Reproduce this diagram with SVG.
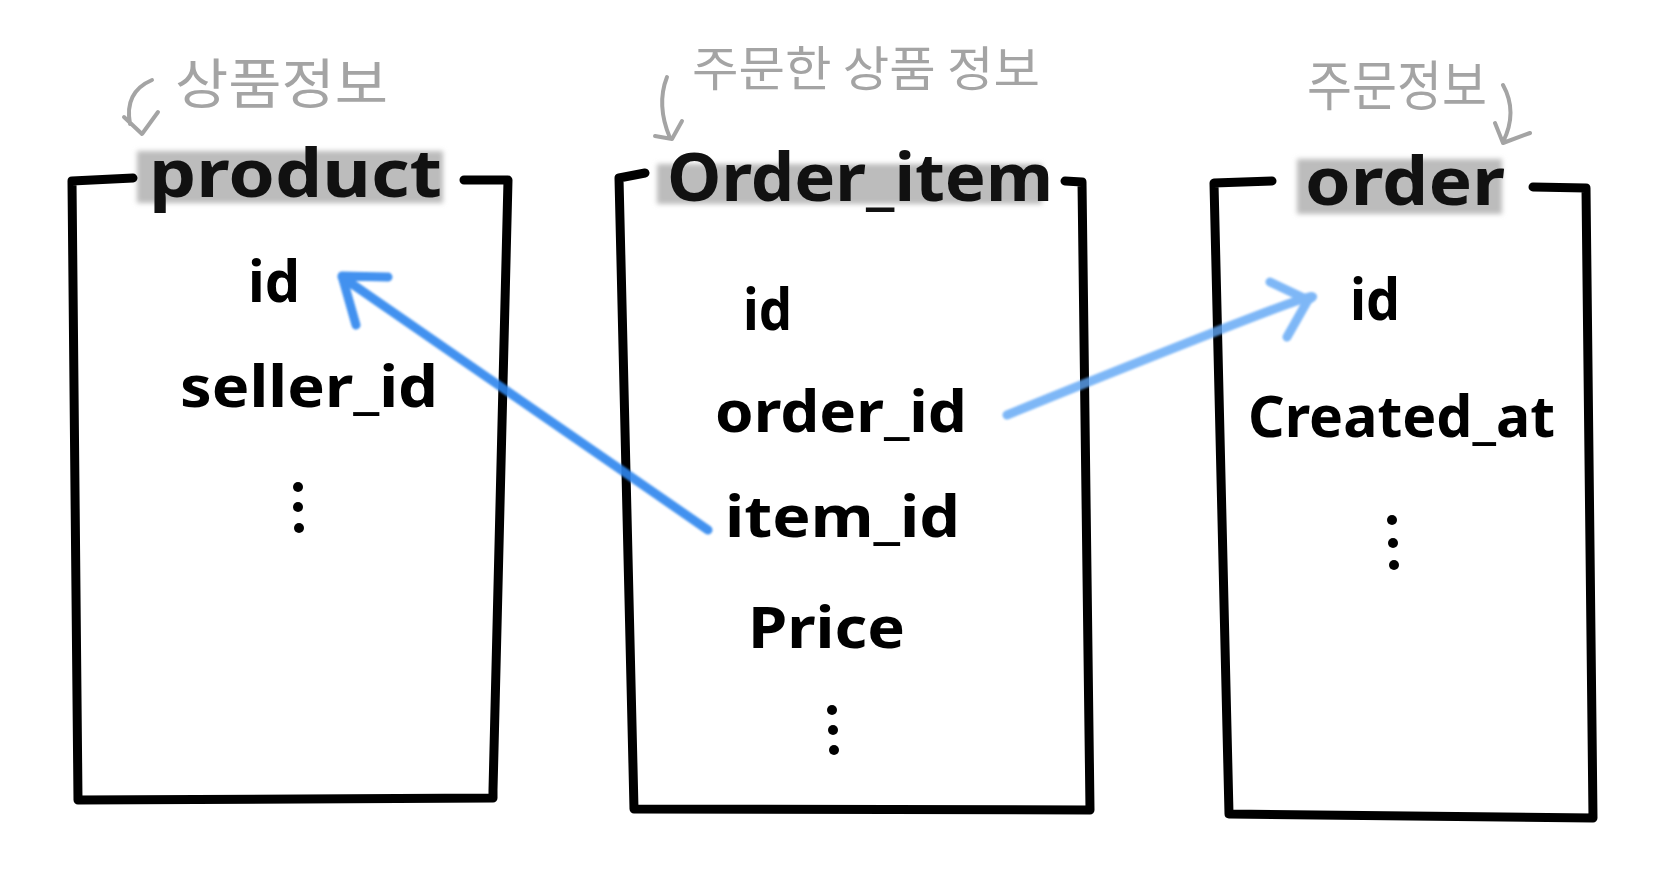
<svg xmlns="http://www.w3.org/2000/svg" width="1668" height="883" viewBox="0 0 1668 883">
<defs>
<filter id="soft" x="-10%" y="-30%" width="120%" height="160%"><feGaussianBlur stdDeviation="2.5"/></filter>
<filter id="spray" x="-10%" y="-10%" width="120%" height="120%"><feGaussianBlur stdDeviation="1.2"/></filter>
<style>
.box{fill:none;stroke:#000;stroke-width:9;stroke-linecap:round;stroke-linejoin:round}
.hl{fill:#bcbcbc;filter:url(#soft)}
.title{font-family:"Noto Sans","DejaVu Sans",sans-serif;font-weight:700;font-size:66px;fill:#111}
.field{font-family:"Noto Sans","DejaVu Sans",sans-serif;font-weight:700;font-size:58px;fill:#000}
.dot{fill:#000}
.note{font-family:"Noto Sans CJK KR","Noto Sans",sans-serif;font-weight:400;fill:#a4a4a4}
.narrow{fill:none;stroke:#a4a4a4;stroke-width:4;stroke-linecap:round;stroke-linejoin:round}
.blue{fill:none;stroke:#2f86ee;stroke-width:9;stroke-linecap:round;stroke-linejoin:round;filter:url(#spray);opacity:0.9}
.blue2{fill:none;stroke:#5fa6f5;stroke-width:9;stroke-linecap:round;stroke-linejoin:round;filter:url(#spray);opacity:0.8}
</style>
</defs>
<rect width="1668" height="883" fill="#fff"/>

<g id="annotations">
<text class="note" x="175" y="104" font-size="54" textLength="213" lengthAdjust="spacingAndGlyphs">상품정보</text>
<path class="narrow" d="M152,80 Q124,92 130,124 M124,117 L142,134 L158,112"/>
<text class="note" x="692" y="86" font-size="48" textLength="348" lengthAdjust="spacingAndGlyphs">주문한 상품 정보</text>
<path class="narrow" d="M667,77 Q656,105 670,138 M655,136 L672,139 L682,121"/>
<text class="note" x="1307" y="106" font-size="54" textLength="180" lengthAdjust="spacingAndGlyphs">주문정보</text>
<path class="narrow" d="M1503,85 Q1518,112 1503,142 M1495,123 L1503,143 L1530,133"/>
</g>

<g id="product">
<rect class="hl" x="137" y="151" width="306" height="52"/>
<path class="box" d="M133,178 L72,181 L78,800 L493,798 L493,790 M493,790 L508,180 L464,180"/>
<text class="title" x="149" y="197" textLength="293" lengthAdjust="spacingAndGlyphs">product</text>
<text class="field" x="248" y="302" textLength="52" lengthAdjust="spacingAndGlyphs">id</text>
<text class="field" x="180" y="407" textLength="258" lengthAdjust="spacingAndGlyphs">seller_id</text>
<circle class="dot" cx="298" cy="487" r="5"/>
<circle class="dot" cx="298" cy="507" r="5"/>
<circle class="dot" cx="299" cy="528" r="5"/>
</g>

<g id="order_item">
<rect class="hl" x="657" y="164" width="385" height="40"/>
<path class="box" d="M645,173 L619,178 L634,809 L1090,810 L1082,182 L1065,181"/>
<text class="title" x="667" y="201" textLength="386" lengthAdjust="spacingAndGlyphs">Order_item</text>
<text class="field" x="743" y="330" textLength="49" lengthAdjust="spacingAndGlyphs">id</text>
<text class="field" x="715" y="432" textLength="252" lengthAdjust="spacingAndGlyphs">order_id</text>
<text class="field" x="725" y="537" textLength="235" lengthAdjust="spacingAndGlyphs">item_id</text>
<text class="field" x="748" y="648" textLength="157" lengthAdjust="spacingAndGlyphs">Price</text>
<circle class="dot" cx="832" cy="710" r="5"/>
<circle class="dot" cx="833" cy="730" r="5"/>
<circle class="dot" cx="834" cy="750" r="5"/>
</g>

<g id="order">
<rect class="hl" x="1297" y="159" width="205" height="55"/>
<path class="box" d="M1272,181 L1214,183 L1229,814 L1593,818 L1586,188 L1533,187"/>
<text class="title" x="1305" y="205" textLength="200" lengthAdjust="spacingAndGlyphs">order</text>
<text class="field" x="1350" y="320" textLength="50" lengthAdjust="spacingAndGlyphs">id</text>
<text class="field" x="1248" y="437" textLength="307" lengthAdjust="spacingAndGlyphs">Created_at</text>
<circle class="dot" cx="1392" cy="520" r="5"/>
<circle class="dot" cx="1393" cy="543" r="5"/>
<circle class="dot" cx="1394" cy="565" r="5"/>
</g>

<g id="connectors">
<path class="blue" d="M708,530 L342,277 M388,277 L342,276 L356,325"/>
<path class="blue2" d="M1007,415 Q1080,385 1207,335 T1308,300 M1270,282 L1308,300 L1287,337"/>
</g>
</svg>
